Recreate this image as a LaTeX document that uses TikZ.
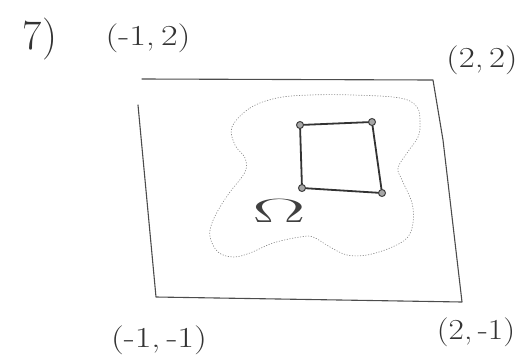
\documentclass[tikz,border=0pt]{standalone}
\usetikzlibrary{calc}
\begin{document}
\begin{tikzpicture}[x=1pt,y=-1pt,
  pencil/.style={draw=black!70,line width=1.1pt,line cap=round,line join=round},
  blobline/.style={draw=black!45,line width=0.7pt,dotted,line cap=round},
  sq/.style={draw=black!80,line width=1.8pt,line cap=round,line join=round},
  cornerdot/.style={circle,draw=black!75,line width=1pt,fill=black!35,inner sep=0pt,minimum size=7pt},
  hand/.style={text=black!80,inner sep=0pt,font=\fontsize{29}{29}\selectfont}]
\useasboundingbox (0,0) rectangle (524,362);
% labels
\node[hand,font=\fontsize{42}{42}\selectfont] (seven) at (40,39) {7)};
\node[hand] (tl) at (148,38) {\scalebox{1.25}[1]{(-1,\,2)}};
\node[hand] (tr) at (482,60) {\scalebox{1.2}[1]{(2,\,2)}};
\node[hand] (bl) at (159,340) {\scalebox{1.25}[1]{(-1,\,-1)}};
\node[hand] (br) at (476,332) {\scalebox{1.15}[1]{(2,\,-1)}};
% outer frame
\coordinate (A) at (142,79);
\coordinate (B) at (433,80);
\coordinate (B2) at (443,140);
\coordinate (C) at (462,302);
\coordinate (D) at (156,297);
\coordinate (E) at (138,105);
\draw[pencil] (A) -- (B) -- (B2) -- (C) -- (D) -- (E);
% dotted region
\draw[blobline] plot[smooth cycle,tension=0.6] coordinates {
 (232,127) (250,108) (277,98) (310,95) (353,95) (400,98) (417,107) (420,123)
 (418,137) (407,153) (398,168) (402,180) (412,203) (413,223) (407,238)
 (390,248) (367,255) (347,255) (330,247) (313,237) (300,237) (273,243)
 (250,253) (233,257) (218,252) (210,237) (212,223) (220,207) (230,192)
 (245,172) (245,158) (235,145)};
% square
\node[cornerdot] (p1) at (300,125) {};
\node[cornerdot] (p2) at (372,122) {};
\node[cornerdot] (p3) at (382,193) {};
\node[cornerdot] (p4) at (302,188) {};
\draw[sq] (p1) -- (p2) -- (p3) -- (p4) -- (p1);
% Omega
\node[text=black!75,inner sep=0pt,font=\fontsize{24.88}{26}\selectfont] (om) at (279,211) {\scalebox{3.2}[1.35]{$\Omega$}};
\end{tikzpicture}
\end{document}
